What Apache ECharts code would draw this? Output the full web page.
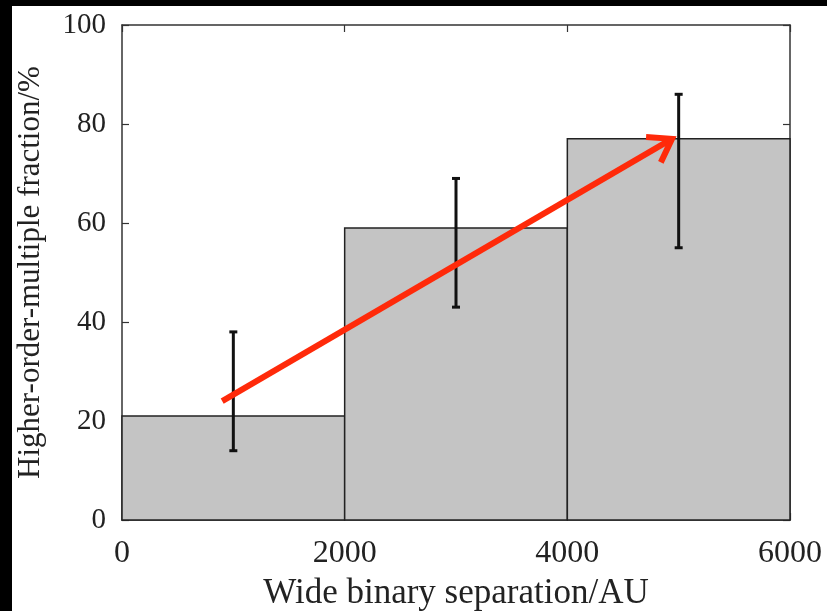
<!DOCTYPE html>
<html>
<head>
<meta charset="utf-8">
<script src="https://cdn.jsdelivr.net/npm/echarts@6/dist/echarts.min.js"></script>
<style>
  html, body { margin: 0; padding: 0; background: #000; }
  #main { position: absolute; left: 12px; top: 6px; width: 815px; height: 605px; background: #fff; }
</style>
</head>
<body>
<div id="main"></div>
<script>
// bins of wide binary separation (AU)
const binStart = [0, 2000, 4000];
const binEnd = [2000, 4000, 6000];
const binCenter = [1000, 3000, 5000];
// higher-order-multiple fraction (%)
const fraction = [21, 59, 77];
const errLow = [14, 43, 55];
const errHigh = [38, 69, 86];
// trend arrow
const arrowFrom = [900, 24];
const arrowTo = [4940, 77];

const serif = 'Liberation Serif';
const chart = echarts.init(document.getElementById('main'));

const barData = binStart.map((s, i) => [s, binEnd[i], fraction[i]]);
const errData = binCenter.map((c, i) => [c, errLow[i], errHigh[i]]);

const frameLine = { show: true, onZero: false, lineStyle: { color: '#333', width: 1.5 } };
const frameTick = { show: true, inside: true, length: 7, lineStyle: { color: '#333', width: 1.2 } };

const option = {
    animation: false,
    grid: { left: 110, right: 37, top: 19, bottom: 91, outerBoundsMode: 'none', containLabel: false },
    xAxis: [{
        type: 'value',
        min: 0, max: 6000, interval: 2000,
        name: 'Wide binary separation/AU',
        nameLocation: 'middle',
        nameGap: 56,
        nameTextStyle: { fontFamily: serif, fontSize: 35, color: '#222' },
        axisLine: frameLine,
        axisTick: frameTick,
        axisLabel: { fontFamily: serif, fontSize: 32, color: '#222', margin: 18, formatter: v => String(v) },
        splitLine: { show: false }
    }, {
        type: 'value', position: 'top',
        min: 0, max: 6000, interval: 2000,
        axisLine: frameLine,
        axisTick: frameTick,
        axisLabel: { show: false },
        splitLine: { show: false }
    }],
    yAxis: [{
        type: 'value',
        min: 0, max: 100, interval: 20,
        name: 'Higher-order-multiple fraction/%',
        nameLocation: 'middle',
        nameGap: 76,
        nameTextStyle: { fontFamily: serif, fontSize: 31, color: '#222' },
        axisLine: frameLine,
        axisTick: frameTick,
        axisLabel: { fontFamily: serif, fontSize: 29, color: '#222', margin: 16 },
        splitLine: { show: false }
    }, {
        type: 'value', position: 'right',
        min: 0, max: 100, interval: 20,
        axisLine: frameLine,
        axisTick: frameTick,
        axisLabel: { show: false },
        splitLine: { show: false }
    }],
    series: [{
        type: 'custom',
        name: 'bins',
        data: barData,
        renderItem: function (params, api) {
            const p0 = api.coord([api.value(0), api.value(2)]);
            const p1 = api.coord([api.value(1), 0]);
            return {
                type: 'rect',
                shape: { x: p0[0], y: p0[1], width: p1[0] - p0[0], height: p1[1] - p0[1] },
                style: { fill: '#c4c4c4', stroke: '#222', lineWidth: 1.5 }
            };
        }
    }, {
        type: 'custom',
        name: 'errors',
        data: errData,
        z: 3,
        renderItem: function (params, api) {
            const lo = api.coord([api.value(0), api.value(1)]);
            const hi = api.coord([api.value(0), api.value(2)]);
            const cap = 4;
            const st = { stroke: '#111', lineWidth: 3 };
            return {
                type: 'group',
                children: [
                    { type: 'line', shape: { x1: lo[0], y1: lo[1], x2: hi[0], y2: hi[1] }, style: st },
                    { type: 'line', shape: { x1: lo[0] - cap, y1: lo[1], x2: lo[0] + cap, y2: lo[1] }, style: st },
                    { type: 'line', shape: { x1: hi[0] - cap, y1: hi[1], x2: hi[0] + cap, y2: hi[1] }, style: st }
                ]
            };
        }
    }, {
        type: 'custom',
        name: 'trend',
        data: [[arrowFrom[0], arrowFrom[1], arrowTo[0], arrowTo[1]]],
        z: 4,
        renderItem: function (params, api) {
            const a = api.coord([api.value(0), api.value(1)]);
            const b = api.coord([api.value(2), api.value(3)]);
            const ang = Math.atan2(b[1] - a[1], b[0] - a[0]);
            const len = 26, spread = 0.6;
            const l = [b[0] - len * Math.cos(ang - spread), b[1] - len * Math.sin(ang - spread)];
            const r = [b[0] - len * Math.cos(ang + spread), b[1] - len * Math.sin(ang + spread)];
            const st = { stroke: '#ff2a0a', lineWidth: 6, fill: null, lineCap: 'butt', lineJoin: 'miter' };
            return {
                type: 'group',
                children: [
                    { type: 'line', shape: { x1: a[0], y1: a[1], x2: b[0] - 3 * Math.cos(ang), y2: b[1] - 3 * Math.sin(ang) }, style: st },
                    { type: 'polyline', shape: { points: [l, b, r] }, style: st }
                ]
            };
        }
    }]
};
chart.setOption(option);
</script>
</body>
</html>
